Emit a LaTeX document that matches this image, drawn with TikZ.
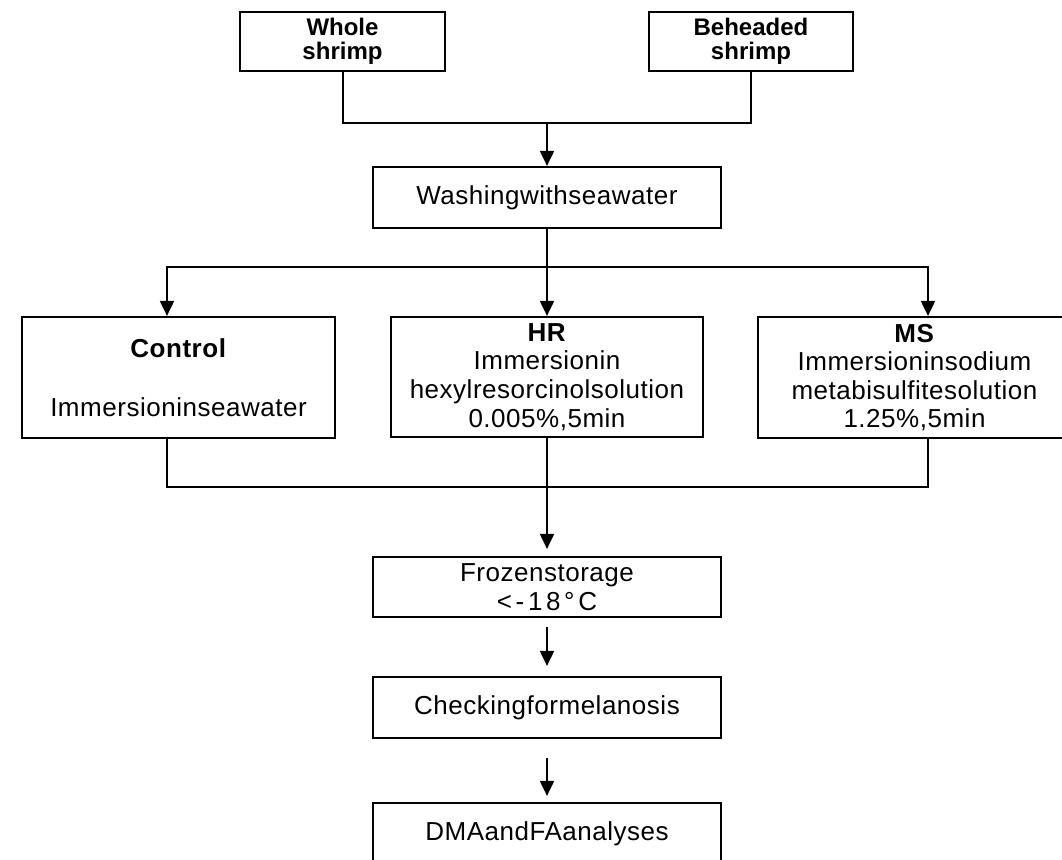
\documentclass[tikz,border=0pt]{standalone}
\usepackage{fontspec}
\setmainfont{Liberation Sans}
\usetikzlibrary{arrows.meta}

\begin{document}
\begin{tikzpicture}[x=0.5pt,y=-0.5pt,line width=1pt,>={Triangle[length=7.5pt,width=7pt]},
  box/.style={draw,line width=1.1pt,inner sep=0pt,align=center,
    font=\fontsize{13}{14.3}\selectfont\addfontfeature{LetterSpace=2}},
  src/.style={box,font=\fontsize{12}{11.8}\selectfont\bfseries}]
  \useasboundingbox (0,0) rectangle (1062,860);
  \clip (0,0) rectangle (1062,860);
  % raw material
  \node[src,minimum width=102.5pt,minimum height=29.5pt] (whole) at (342.5,41.5) {Whole\\shrimp};
  \node[src,minimum width=102pt,minimum height=29.5pt] (beheaded) at (751,41.5) {Beheaded\\shrimp};
  \node[box,minimum width=174pt,minimum height=30.5pt] (wash) at (547,197.5) {Washingwithseawater};
  % treatments
  \node[box,minimum width=156.5pt,minimum height=60.5pt] (ctrl) at (178.5,377.5) {\textbf{Control}\\[15pt]Immersioninseawater};
  \node[box,minimum width=156pt,minimum height=60pt] (hr) at (547,377) {\textbf{HR}\\Immersionin\\hexylresorcinolsolution\\0.005\%,5min};
  \node[box,minimum width=156.5pt,minimum height=60.5pt] (ms) at (914.5,377.5) {\textbf{MS}\\Immersioninsodium\\metabisulfitesolution\\1.25\%,5min};
  \node[box,minimum width=174pt,minimum height=30pt] (frozen) at (547,587) {Frozenstorage\\{\addfontfeature{LetterSpace=14}<-18°C}};
  \node[box,minimum width=174pt,minimum height=30.5pt] (check) at (547,707.5) {Checkingformelanosis};
  \node[box,minimum width=174pt,minimum height=30.5pt] (dma) at (547,833.5) {DMAandFAanalyses};

  \coordinate (join) at (547,123);
  \coordinate (split) at (547,267);
  \coordinate (merge) at (547,487);
  \draw (whole) |- (join) -| (beheaded);
  \draw[->] (join) -- (wash);
  \draw[->] (wash) -- (hr);
  \draw[->] (split) -| ([xshift=-5.75pt]ctrl.north);
  \draw[->] (split) -| ([xshift=6.75pt]ms.north);
  \draw ([xshift=-5.75pt]ctrl.south) |- (merge) -| ([xshift=6.75pt]ms.south);
  \draw[->,shorten >=3.5pt] (hr) -- (frozen);
  \draw[->,shorten <=4.5pt,shorten >=5pt] (frozen) -- (check);
  \draw[->,shorten <=9.5pt,shorten >=3pt] (check) -- (dma);
\end{tikzpicture}
\end{document}
